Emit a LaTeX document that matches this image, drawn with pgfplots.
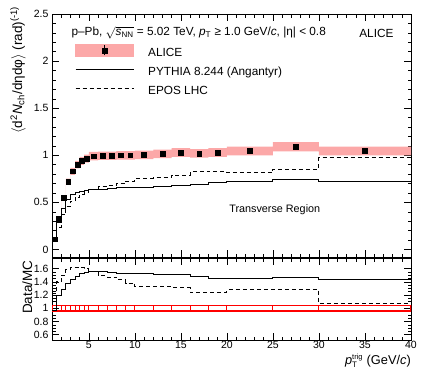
\documentclass[border=0pt]{standalone}
\usepackage{fontspec}
\setmainfont{Liberation Sans}
\usepackage{pgfplots}
\pgfplotsset{compat=1.18}
\usepackage{pgfplotstable}
\usepgfplotslibrary{fillbetween}
\definecolor{alicepink}{RGB}{252,168,168}
\definecolor{boxred}{RGB}{255,0,0}

% bin edges; last row repeats the 30-40 bin so const plot reaches 40
\pgfplotstableread{
lo   y     sys   py    ep    rpy   rep   rs
1    0.11  0.005 0.105 0.09  0.97  1.22  0.045
1.5  0.33  0.015 0.29  0.236 1.20  1.40  0.045
2    0.55  0.025 0.43  0.367 1.29  1.50  0.045
2.5  0.72  0.032 0.526 0.456 1.37  1.58  0.045
3    0.83  0.037 0.58  0.512 1.43  1.62  0.045
3.5  0.90  0.040 0.608 0.556 1.48  1.62  0.045
4    0.94  0.042 0.618 0.584 1.52  1.61  0.045
4.5  0.965 0.043 0.627 0.603 1.54  1.60  0.045
5    0.99  0.045 0.635 0.639 1.56  1.55  0.045
6    0.995 0.045 0.64  0.668 1.555 1.49  0.045
7    0.995 0.045 0.646 0.677 1.54  1.47  0.045
8    1.00  0.045 0.654 0.699 1.53  1.43  0.045
9    1.00  0.045 0.658 0.725 1.52  1.38  0.045
10   1.005 0.045 0.661 0.756 1.52  1.33  0.045
12   1.015 0.046 0.672 0.763 1.51  1.33  0.045
14   1.03  0.046 0.682 0.786 1.51  1.31  0.045
16   1.02  0.046 0.689 0.823 1.48  1.24  0.045
18   1.03  0.046 0.708 0.831 1.455 1.24  0.045
20   1.045 0.047 0.718 0.816 1.455 1.28  0.045
25   1.09  0.049 0.744 0.852 1.465 1.28  0.045
30   1.045 0.047 0.724 0.977 1.44  1.07  0.045
40   1.045 0.047 0.724 0.977 1.44  1.07  0.045
}\bins

% ALICE points at bin centres
\pgfplotstableread{
x    y     stat
1.25 0.11  0.005
1.75 0.33  0.005
2.25 0.55  0.005
2.75 0.72  0.005
3.25 0.83  0.005
3.75 0.90  0.005
4.25 0.94  0.005
4.75 0.965 0.005
5.5  0.99  0.005
6.5  0.995 0.005
7.5  0.995 0.005
8.5  1.00  0.006
9.5  1.00  0.006
11   1.005 0.007
13   1.015 0.008
15   1.03  0.009
17   1.02  0.010
19   1.03  0.011
22.5 1.045 0.013
27.5 1.09  0.020
35   1.045 0.025
}\alice

\begin{document}
\begin{tikzpicture}[font=\fontsize{11.8}{13}\selectfont]
\pgfplotsset{rootstyle/.style={
  scale only axis, width=359pt, xmin=1, xmax=40,
  clip mode=individual,
  tick align=inside, tick pos=both,
  axis line style={line width=0.7pt},
  major tick length=7pt, minor tick length=3.5pt,
  every tick/.style={black, line width=0.5pt},
  /pgf/number format/assume math mode=true,
  ticklabel style={font=\fontsize{10.5}{12}\selectfont},
  xtick={5,10,...,40}, minor xtick={2,...,40}}}

\begin{axis}[rootstyle, at={(0pt,0pt)}, anchor=south west, height=243pt,
  ymin=-0.08, ymax=2.5, ytick={0,0.5,1,1.5,2,2.5}, minor y tick num=4,
  xticklabels={},
  legend style={at={(0.064,0.765)}, anchor=west, draw=none, fill=none,
    inner sep=0pt, font=\fontsize{11.8}{13}\selectfont, row sep=7pt,
    nodes={inner sep=0pt, text height=9pt, text depth=3pt},
    /tikz/every odd column/.append style={column sep=14pt}},
  legend cell align=left]
\addlegendimage{legend image code/.code={
  \fill[alicepink] (0pt,-2.5pt) rectangle (58pt,9.5pt);
  \draw[black, line width=1.4pt] (29pt,-1.5pt) -- (29pt,8.5pt);
  \draw[black, fill=black] plot[only marks, mark=square*, mark size=2.4pt] coordinates {(29pt,3.5pt)};}}
\addlegendentry{ALICE}
\addlegendimage{legend image code/.code={
  \draw[black, line width=1pt] (0pt,3.5pt) -- (58pt,3.5pt);}}
\addlegendentry{PYTHIA 8.244 (Angantyr)}
\addlegendimage{legend image code/.code={
  \draw[black, line width=1pt, dash pattern=on 4pt off 3pt] (0pt,3.5pt) -- (58pt,3.5pt);}}
\addlegendentry{EPOS LHC}

\addplot[name path=su, const plot, draw=none, forget plot] table[x=lo, y expr=\thisrow{y}+\thisrow{sys}] {\bins};
\addplot[name path=sd, const plot, draw=none, forget plot] table[x=lo, y expr=\thisrow{y}-\thisrow{sys}] {\bins};
\addplot[alicepink, forget plot] fill between[of=su and sd];

\addplot[const plot, black, line width=1pt, forget plot] table[x=lo, y=py] {\bins};
\addplot[const plot, black, line width=1pt, dash pattern=on 4pt off 3pt, forget plot] table[x=lo, y=ep] {\bins};

\addplot[only marks, mark=square*, mark size=2.4pt, black, forget plot,
  error bars/.cd, y dir=both, y explicit, error mark=none,
  error bar style={line width=1.4pt}] table[x=x, y=y, y error=stat] {\alice};

\node[anchor=west] at (rel axis cs:0.0446,0.922)
  {p--Pb, $\sqrt{\mbox{\textit{s}}_{\mbox{\fontsize{8}{9}\selectfont NN}}}$ = 5.02 TeV, \textit{p}\textsubscript{T} ≥ 1.0 GeV/\textit{c}, |η| < 0.8};
\node[anchor=east] at (rel axis cs:0.961,0.922) {ALICE};
\node[font=\fontsize{10.8}{12}\selectfont] at (axis cs:25.2,0.425) {Transverse Region};
\node[rotate=90, anchor=east, font=\fontsize{13.5}{15}\selectfont] at ([xshift=-34pt, yshift=11pt]rel axis cs:0,1)
  {$\langle$d\textsuperscript{2}\textit{N}\textsubscript{ch}/dηdφ$\rangle$ (rad)\textsuperscript{(-1)}};
\end{axis}

\begin{axis}[rootstyle, at={(0pt,-1pt)}, anchor=north west, height=82pt,
  ymin=0.52, ymax=1.76, ytick={0.6,0.8,1,1.2,1.4,1.6}, minor y tick num=3,
  xticklabel style={yshift=2pt}]
\addplot[name path=ru, const plot, draw=none, mark=none, forget plot] table[x=lo, y expr=1+\thisrow{rs}] {\bins};
\addplot[name path=rd, const plot, draw=none, mark=none, forget plot] table[x=lo, y expr=1-\thisrow{rs}] {\bins};
\addplot[draw=boxred, fill=none, line width=1.5pt] fill between[of=ru and rd];
\addplot[draw=none, mark=none,
  error bars/.cd, y dir=both, y explicit, error mark=none,
  error bar style={draw=boxred, solid, line width=1pt}] table[x=lo, y expr=1, y error=rs] {\bins};
\addplot[const plot, black, mark=none, line width=1pt] table[x=lo, y=rpy] {\bins};
\addplot[const plot, black, mark=none, line width=1pt, dash pattern=on 4pt off 3pt] table[x=lo, y=rep] {\bins};
\node[rotate=90, anchor=east, font=\fontsize{13.5}{15}\selectfont] at ([xshift=-24.7pt, yshift=1pt]rel axis cs:0,1)
  {Data/MC};
\node[anchor=north east, inner sep=0pt, font=\fontsize{12.8}{15}\selectfont] at ([yshift=-13.5pt]rel axis cs:1,0)
  {$\mbox{\textit{p}}_{\mbox{\fontsize{8}{9}\selectfont T}}^{\mbox{\fontsize{7.5}{9}\selectfont trig}}$ (GeV/\textit{c})};
\end{axis}
\path (-52pt,-119pt) rectangle (379pt,257pt);
\end{tikzpicture}
\end{document}
